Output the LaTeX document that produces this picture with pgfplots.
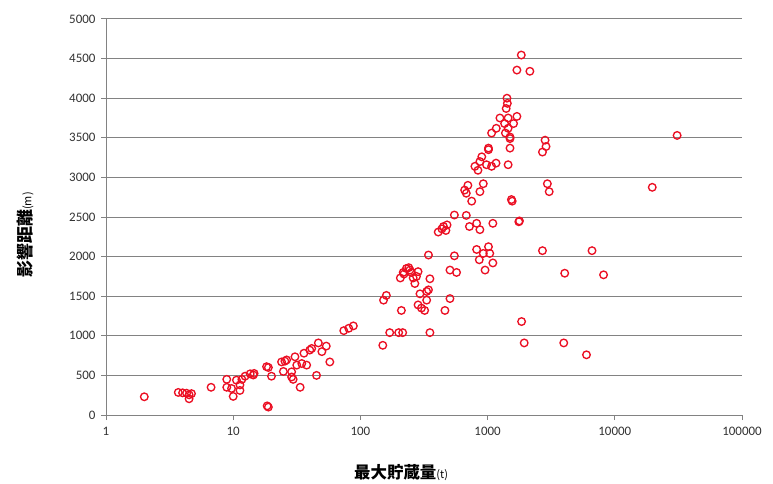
\documentclass[border=0pt]{standalone}
\usepackage{fontspec}
\usepackage{pgfplots}
\pgfplotsset{compat=1.18}
\setmainfont{Carlito}
\newfontfamily\jp{Noto Sans CJK JP}
\definecolor{markred}{RGB}{235,15,35}
\definecolor{gridgray}{RGB}{130,130,130}
\definecolor{ticktext}{RGB}{50,50,50}

\begin{document}
\begin{tikzpicture}
\useasboundingbox (-106bp,-69bp) rectangle (667bp,415bp);
\begin{axis}[
    at={(0,0)}, anchor=south west,
    scale only axis,
    width=636bp, height=396bp,
    xmode=log,
    xmin=1, xmax=100000,
    ymin=0, ymax=5000,
    xtick={1,10,100,1000,10000,100000},
    xticklabels={1,10,100,1000,10000,100000},
    xminorticks=false,
    ytick={0,500,...,5000},
    /pgf/number format/1000 sep={},
    /pgf/number format/assume math mode=true,
    axis x line*=bottom, axis y line*=left,
    axis line style={gridgray, line width=1pt},
    ymajorgrids,
    grid style={gridgray, line width=1pt},
    tick style={gridgray, line width=1pt},
    major tick length=5bp,
    tick align=outside,
    ticklabel style={font=\fontsize{13}{14}\selectfont, text=ticktext},
    yticklabel style={xshift=-2bp},
    xticklabel style={yshift=-4bp},
    xlabel={{\jp\bfseries\fontsize{16.5}{17}\selectfont 最大貯蔵量}{\jp\fontsize{11}{12}\selectfont (t)}},
    ylabel={{\jp\bfseries\fontsize{17}{18}\selectfont 影響距離}{\jp\fontsize{11}{12}\selectfont (m)}},
    xlabel style={at={(axis description cs:0.464,-0.146)}, anchor=center},
    ylabel style={at={(axis description cs:-0.127,0.455)}, anchor=center},
    clip=false,
]
% 最大貯蔵量 vs 影響距離
\addplot[only marks, mark=o, mark size=3.8pt,
         mark options={draw=markred, line width=1.35pt}] coordinates {
(2.0,230) (3.7,285) (4.0,280) (4.3,275) (4.5,255) (4.5,205) (4.7,270)
(6.7,350) (8.9,350) (8.9,450) (9.7,335) (10,235) (10.6,440) (11.3,310)
(11.3,380) (11.7,450) (12.4,490) (13.6,520) (14.6,525) (14.4,505)
(18.3,610) (18.9,600) (18.5,115) (18.9,100) (20,490) (24,670) (25.5,680)
(26.3,695) (24.8,550) (28.8,545) (29.6,450) (28.8,480) (33.6,350)
(31.6,630) (30.6,735) (34.6,650) (36,780) (37.8,630) (40,820) (41.4,840)
(45.2,500) (46.7,910) (49.8,800) (53.9,870) (57.5,670)
(74,1065) (81,1095) (88,1125)
(150,880) (152,1450) (160,1510) (170,1040) (200,1040) (215,1040)
(210,1320) (206,1730) (217,1800) (220,1780) (230,1850) (240,1860)
(245,1830) (252,1800) (260,1730) (268,1660) (276,1750) (284,1810)
(294,1530) (284,1390) (302,1350) (320,1320) (332,1450) (332,1560)
(343,1580) (352,1720) (343,2020) (352,1040) (462,1320) (506,1470)
(506,1830) (570,1800) (548,2010)
(409,2310) (437,2350) (450,2380) (470,2330) (480,2400) (548,2525)
(680,2520) (720,2380) (820,2420) (870,2340) (820,2090) (860,1960)
(925,2040) (1016,2125) (1040,2040) (955,1830) (1100,1920) (1100,2420)
(700,2900) (660,2840) (680,2800) (925,2920) (870,2820) (750,2700)
(1016,3350) (900,3260) (870,3200) (795,3140) (840,3090) (980,3160)
(1075,3140) (1165,3180) (1450,3160) (1500,3370) (1500,3510) (1380,3560)
(1075,3560) (1016,3370) (1170,3620) (1450,3620) (1360,3680) (1600,3680)
(1250,3750) (1450,3750) (1700,3770) (1500,3490) (1400,3870) (1430,3935)
(1420,4000) (1700,4355) (2150,4340) (1840,4545)
(1540,2720) (1560,2700) (1760,2440) (1780,2450)
(2700,3320) (2880,3390) (2830,3470) (2950,2920) (3050,2820)
(2700,2075) (6620,2075) (4040,1790) (8160,1770)
(1850,1180) (1940,910) (3970,910) (5990,760)
(19700,2875) (30900,3530)
};
\end{axis}
\end{tikzpicture}
\end{document}
